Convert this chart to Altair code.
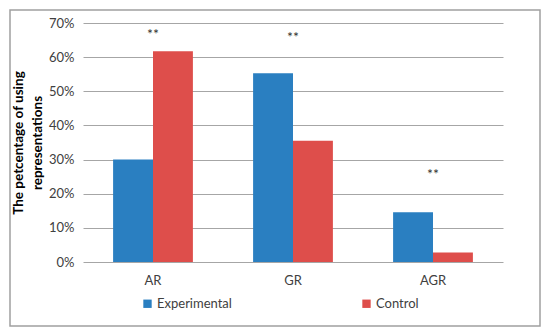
import altair as alt
import pandas as pd

categories = ["AR", "GR", "AGR"]
experimental = [0.30, 0.553, 0.146]
control = [0.617, 0.355, 0.028]
star_labels = ["**", "**", "**"]
star_pos = [0.665, 0.655, 0.255]
series = ["Experimental", "Control"]
colors = ["#2A7FC1", "#DE4E4B"]
y_ticks = [0, 0.1, 0.2, 0.3, 0.4, 0.5, 0.6, 0.7]

rows = []
for c, e, k in zip(categories, experimental, control):
    rows.append({"cat": c, "group": "Experimental", "value": e})
    rows.append({"cat": c, "group": "Control", "value": k})
df = pd.DataFrame(rows)
stars = pd.DataFrame({"cat": categories, "label": star_labels, "pos": star_pos})

FONT = "Lato"

x_scale = alt.Scale(paddingInner=0.43, paddingOuter=0.215)
x_axis = alt.Axis(
    title=None, labelAngle=0, domain=False, ticks=False,
    labelPadding=12, labelFontSize=13, labelColor="#404040", labelFont=FONT,
)
y_scale = alt.Scale(domain=[0, 0.7], nice=False)
y_axis = alt.Axis(
    values=y_ticks, format=".0%", domain=False, ticks=False,
    labelOverlap=False,
    labelPadding=9, labelFontSize=13, labelColor="#404040", labelFont=FONT,
    gridColor="#A6A6A6", gridWidth=1,
    title=["The petcentage of using", "representations"],
    titleFont=FONT, titleFontSize=13.5, titleFontWeight="bold",
    titleColor="#000000", titlePadding=4, titleLineHeight=19,
)

bars = alt.Chart(df).mark_bar().encode(
    x=alt.X("cat:N", sort=categories, scale=x_scale, axis=x_axis),
    xOffset=alt.XOffset("group:N", sort=series),
    y=alt.Y("value:Q", scale=y_scale, axis=y_axis),
    color=alt.Color(
        "group:N",
        sort=series,
        scale=alt.Scale(domain=series, range=colors),
        legend=alt.Legend(
            title=None, orient="none", legendX=58, legendY=274,
            direction="horizontal", columns=2, columnPadding=128,
            symbolType="square", symbolSize=70, symbolStrokeWidth=0,
            labelFontSize=13, labelFont=FONT, labelColor="#404040", labelOffset=3,
        ),
    ),
)

star_text = alt.Chart(stars).mark_text(
    fontSize=14, font=FONT, color="#333333", baseline="middle"
).encode(
    x=alt.X("cat:N", sort=categories, scale=x_scale, axis=x_axis),
    y=alt.Y("pos:Q", scale=y_scale, axis=y_axis),
    text="label:N",
)

frame = alt.Chart(pd.DataFrame({"a": [0]})).mark_rect(
    fill=None, stroke="#A0A0A0", strokeWidth=1.5
).encode(
    x=alt.value(-73), x2=alt.value(457),
    y=alt.value(-13), y2=alt.value(303),
)

chart = alt.layer(bars, star_text, frame).properties(
    width=420, height=239,
    autosize=alt.AutoSizeParams(type="none"),
    padding={"left": 75, "top": 15, "right": 39, "bottom": 66},
    background="white",
).configure_view(stroke=None)

chart.save("out.html", embed_options={"renderer": "svg", "actions": False})
